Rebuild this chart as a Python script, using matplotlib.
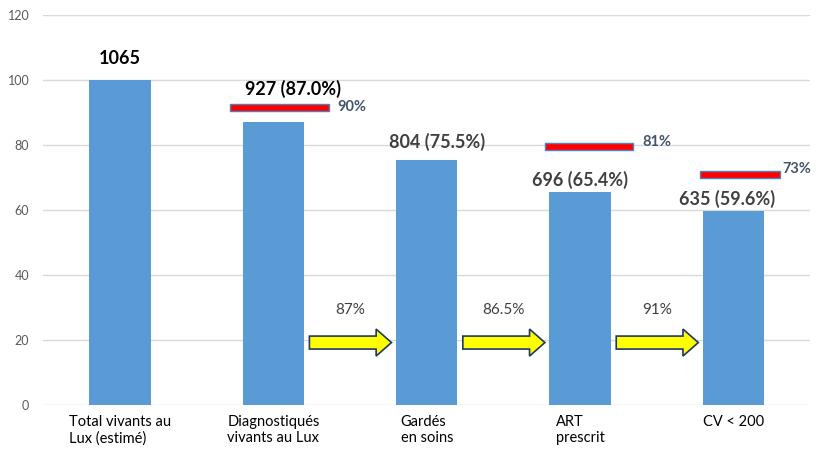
import matplotlib
matplotlib.use("Agg")
import matplotlib.pyplot as plt
import matplotlib.patches as patches

# données
categories = ["Total vivants au\nLux (estimé)", "Diagnostiqués\nvivants au Lux",
              "Gardés\nen soins", "ART\nprescrit", "CV < 200"]
percent = [100, 87.0, 75.5, 65.4, 59.6]
bar_labels = ["1065", "927 (87.0%)", "804 (75.5%)", "696 (65.4%)", "635 (59.6%)"]

# objectifs (barres rouges)
target_idx = [1, 3, 4]
target_level = [91.5, 79.5, 71.0]
target_labels = ["90%", "81%", "73%"]

# passage d'une étape à l'autre (flèches jaunes)
step_from = [1, 2, 3]
step_labels = ["87%", "86.5%", "91%"]

plt.rcParams['font.family'] = ['Lato', 'DejaVu Sans']

fig = plt.figure(figsize=(8.16, 4.54), dpi=100)
ax = fig.add_axes([0.053, 0.108, 0.940, 0.859])

x = list(range(len(categories)))
ax.bar(x, percent, width=0.4, color="#5b9bd5", zorder=2)

# étiquettes des barres
label_dx = [0, 0.13, 0.07, 0, -0.04]
label_dy = [4, 7.4, 2.5, 1, 1]
label_col = ["black", "black", "#404040", "#404040", "#404040"]
for i in x:
    ax.text(i + label_dx[i], percent[i] + label_dy[i], bar_labels[i], ha="center", va="bottom",
            fontsize=13, fontweight="bold", color=label_col[i], zorder=4)

# barres rouges des objectifs
t_left = [-0.28, -0.23, -0.22]
t_right = [0.365, 0.345, 0.30]
t_dy = [0.2, 1.5, 1.7]
t_gap = [0.05, 0.06, 0.015]
for k in range(len(target_idx)):
    i = target_idx[k]
    ax.add_patch(patches.Rectangle((i + t_left[k], target_level[k] - 1.1), t_right[k] - t_left[k], 2.2,
                                   facecolor="#ff0000", edgecolor="#4f81bd", lw=1, zorder=3))
    ax.text(i + t_right[k] + t_gap[k], target_level[k] + t_dy[k], target_labels[k], ha="left", va="center",
            fontsize=10.5, fontweight="bold", color="#44546a", zorder=4)

# flèches jaunes
for k in range(len(step_from)):
    i = step_from[k]
    ax.add_patch(patches.FancyArrow(i + 0.235, 19.2, 0.535, 0, width=4, head_width=8.3, head_length=0.1,
                                    length_includes_head=True, facecolor="#ffff00",
                                    edgecolor="#1f3864", lw=1.2, zorder=3))
    ax.text(i + 0.5, 29.2, step_labels[k], ha="center", va="center", fontsize=11, color="#404040")

# axes
ax.set_xlim(-0.5, len(categories) - 0.5)
ax.set_ylim(0, 120)
ax.set_yticks(range(0, 121, 20))
ax.set_xticks(x)
ax.set_xticklabels(categories, fontsize=10.5, color="black", multialignment="left")
for lab in ax.get_yticklabels():
    lab.set_fontsize(9)
    lab.set_color("#595959")
ax.tick_params(length=0)
ax.tick_params(axis="y", pad=10)
ax.tick_params(axis="x", pad=7)
ax.yaxis.grid(True, color="#d9d9d9", lw=1)
ax.set_axisbelow(True)
for s in ax.spines.values():
    s.set_visible(False)

fig.savefig("out.png", dpi=100, facecolor="white")
